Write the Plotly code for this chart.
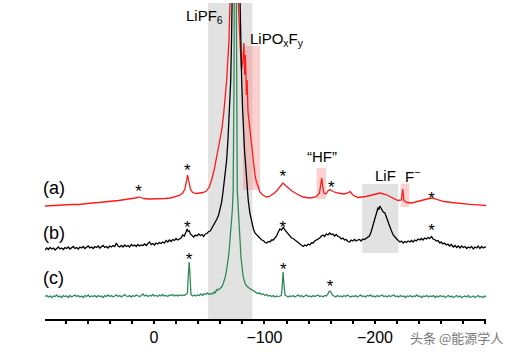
import plotly.graph_objects as go

# ---------------- data (chemical shift in ppm, intensity in arbitrary units) ----------------
red_points = [
    (98.6, -1), (92, -0.5), (86, -0.5), (80, 0), (74, 0.5), (68, 0.5), (62, 1.5), (56, 2), (50, 2.5),
    (44, 3), (38, 3.5), (32, 4.5), (26, 5.5), (21, 6), (17, 7), (15, 7.5), (13.5, 8), (12, 7.5), (9, 6.5),
    (5, 6), (0, 6), (-5, 6), (-10, 6.5), (-15, 7), (-19, 8), (-23, 9.5), (-26, 12), (-28, 16), (-29.5, 24),
    (-30.5, 30), (-31.5, 24), (-33, 16), (-35, 12.5), (-38, 11.5), (-41.5, 12), (-44.5, 12.5), (-47.5, 14),
    (-50, 18), (-52.2, 25), (-54.5, 35), (-56.7, 48), (-59, 61), (-61.3, 75), (-63, 90), (-64.3, 105),
    (-65.8, 125), (-67.9, 165), (-69.4, 205), (-70.5, 270), (-72, 420), (-73, 520), (-74, 460), (-75.2, 320),
    (-76.2, 205), (-77.8, 165), (-79.2, 135), (-80.5, 145), (-81.4, 162), (-82.1, 130), (-82.8, 150),
    (-83.7, 110), (-84.3, 125), (-85.1, 93), (-86.9, 75), (-88.5, 56), (-89.9, 42), (-91.2, 32), (-92.3, 25),
    (-94, 18), (-95.9, 13), (-98.5, 10), (-101.9, 8), (-104.5, 8.5), (-106.8, 10), (-109, 12), (-111, 14),
    (-113, 17), (-114.5, 19), (-116.7, 22), (-118.6, 20), (-121.3, 17), (-124.9, 14), (-129.4, 11),
    (-134.8, 8), (-141.2, 7), (-146.6, 8), (-149.8, 12), (-151.1, 21), (-151.8, 27), (-152.6, 19),
    (-153.8, 12), (-155.7, 11), (-157.5, 14), (-159.3, 15.5), (-162, 13.5), (-166.5, 12), (-171.9, 11),
    (-175.5, 12), (-177.4, 13.5), (-180, 10), (-184.6, 7.5), (-191.9, 8.5), (-198.2, 10), (-204.5, 12),
    (-209.9, 10.5), (-215.4, 7.5), (-220.8, 4.5), (-224, 5), (-225.1, 16), (-226.2, 4.5), (-228.9, 2.5),
    (-233.4, 2), (-240.7, 4.5), (-247.1, 6), (-251.6, 7), (-256.1, 5.5), (-262.4, 3.5), (-269.7, 2.5),
    (-276.9, 1.5), (-286, 0.7), (-293.2, 0.2), (-300.5, -0.5),
]

black_points = [
    (98.6, -1), (97, 1), (95.5, -0.5), (94, 1.5), (92.5, 0), (91, 1), (89.5, -1), (88, 0.5), (86.5, 2),
    (85, 0), (83.5, 1), (82, -0.5), (80.5, 1.5), (79, 0.5), (77.5, 2), (76, 0), (74.5, 1), (73, 2.5),
    (71.5, 0.5), (70, 1.5), (68.5, 0), (67, 2), (65.5, 1), (64, 2.5), (62.5, 0.5), (61, 1.5), (59.5, 3),
    (58, 1), (56.5, 2), (55, 0.5), (53.5, 2.5), (52, 1.5), (50.5, 3), (49, 1), (47.5, 2), (46, 3.5),
    (44.5, 1.5), (43, 2.5), (41.5, 1), (40, 3), (38.5, 2), (37, 3.5), (35.5, 2.5), (34, 6), (32.5, 3),
    (31, 2), (29.5, 3.5), (28, 2), (26.5, 4), (25, 2.5), (23.5, 3.5), (22, 2), (20.5, 4.5), (19, 3),
    (17.5, 4), (16, 2.5), (14.5, 4.5), (13, 3), (11.5, 4), (10, 3.5), (8.5, 5), (7, 3.5), (5.5, 5.5),
    (4, 7), (2.5, 4.5), (1, 5.5), (-0.5, 4), (-2, 6), (-3.5, 5), (-5, 6.5), (-6.5, 5.5), (-8, 7), (-9.5, 6),
    (-11, 8.5), (-12.5, 7), (-14, 9), (-15.5, 7.5), (-17, 9.5), (-18.5, 8.5), (-20, 10.5), (-21.5, 9),
    (-23, 10), (-24.5, 11), (-26, 14), (-27.5, 13), (-29, 17), (-30, 20), (-31, 17.5), (-32, 18), (-33, 15),
    (-34.5, 13), (-36, 12), (-37.5, 14), (-39, 13), (-40.5, 15), (-42, 13.5), (-43.5, 14.5), (-45, 12.5),
    (-46.5, 15), (-48, 15.5), (-49.5, 17.5), (-51, 18), (-52.5, 21), (-54, 24), (-55.5, 26), (-57, 30),
    (-58.5, 34), (-60, 40), (-61.3, 47), (-62.5, 57), (-63.5, 66), (-64.8, 78), (-65.8, 89), (-67, 110),
    (-67.9, 129), (-68.8, 150), (-69.5, 169), (-70.2, 209), (-71, 249), (-72, 330), (-73, 430), (-74, 490),
    (-75, 440), (-76, 350), (-77, 290), (-77.8, 249), (-78.6, 205), (-79.4, 169), (-80.2, 140), (-80.8, 119),
    (-82, 98), (-83.3, 79), (-84.3, 63), (-85.3, 49), (-86.8, 36), (-88.4, 26), (-90, 20), (-91.4, 16),
    (-93, 14), (-94.5, 12), (-96, 11), (-97.5, 9), (-99, 8.5), (-100.5, 6.5), (-102, 6), (-103.5, 7.5),
    (-105, 7), (-106.5, 9), (-108, 9), (-109.5, 11.5), (-111, 13), (-112.5, 17), (-114, 20), (-115.5, 19),
    (-117, 22), (-118.5, 19), (-120, 17), (-121.5, 14), (-123, 13), (-124.5, 11), (-126, 10.5), (-127.5, 9),
    (-129, 7.5), (-130.5, 6), (-132, 5), (-133.5, 3), (-135, 2.5), (-136.5, 4), (-138, 3), (-139.5, 5),
    (-141, 4), (-142.5, 6), (-144, 6), (-145.5, 8), (-147, 9), (-148.5, 10.5), (-150, 11), (-151.5, 13),
    (-153, 14), (-154.5, 12.5), (-156, 15), (-157.5, 14), (-159, 16), (-160.5, 14.5), (-162, 15),
    (-163.5, 13), (-165, 14.5), (-166.5, 12.5), (-168, 12), (-169.5, 10), (-171, 11), (-172.5, 9),
    (-174, 9.5), (-175.5, 7.5), (-177, 7), (-178.5, 9), (-180, 8), (-181.5, 9.5), (-183, 8), (-184.5, 9),
    (-186, 9.5), (-187.5, 8), (-189, 10), (-190.5, 9.5), (-192, 11), (-193.5, 12), (-195, 13), (-196.5, 17),
    (-197.5, 21), (-198.7, 27), (-200, 32), (-201.3, 37), (-202.7, 41), (-203.6, 40), (-204.5, 43),
    (-205.4, 41), (-206.3, 39), (-207.5, 37), (-209, 36), (-210.5, 32), (-212, 27), (-213.6, 22), (-215, 18),
    (-216.5, 14), (-218.1, 12), (-219.5, 10), (-221, 8.5), (-222.6, 7), (-224, 8), (-225.5, 6), (-227, 7.5),
    (-228.5, 6.5), (-230, 8), (-231.7, 7), (-233, 8.5), (-234.5, 7), (-236, 9), (-237.5, 8), (-239, 10),
    (-240.7, 9), (-242, 10.5), (-243.5, 9), (-245, 11), (-246.5, 10), (-248, 11.5), (-249.5, 10.5),
    (-251.3, 12.5), (-252.5, 10), (-254, 9.5), (-255.5, 8), (-257, 8.5), (-258.8, 6), (-260, 7), (-261.5, 5),
    (-263, 6), (-264.5, 4), (-266, 5), (-267.5, 3), (-269, 4.5), (-270.9, 2), (-272.5, 3.5), (-274, 1.5),
    (-275.5, 3), (-277, 1), (-278.5, 3), (-280, 1.5), (-281.5, 2.5), (-283, 0.5), (-284.5, 2), (-286, 1),
    (-287.5, 2.5), (-289, 0), (-290.5, 2), (-292, 1), (-293.5, 3), (-295, 0.5), (-296.5, 2.5), (-298, 1),
    (-299.5, 2), (-300.5, 1.5),
]

green_points = [
    (98.6, 0.5), (97, 1.5), (95.5, 0), (94, 1), (92.5, -0.5), (91, 1), (89.5, 0.5), (88, 2), (86.5, 0),
    (85, 1), (83.5, -0.5), (82, 1.5), (80.5, 0.5), (79, 1), (77.5, -0.5), (76, 1.5), (74.5, 0), (73, 1),
    (71.5, 2), (70, 0.5), (68.5, 1.5), (67, 0), (65.5, 1), (64, -0.5), (62.5, 1.5), (61, 0.5), (59.5, 2),
    (58, 0), (56.5, 1), (55, 0.5), (53.5, 1.5), (52, 0), (50.5, 1.5), (49, 0.5), (47.5, 1), (46, -0.5),
    (44.5, 1.5), (43, 0.5), (41.5, 2), (40, 0.5), (38.5, 1.5), (37, 0), (35.5, 1), (34, 2), (32.5, 0.5),
    (31, 1.5), (29.5, 0), (28, 1), (26.5, 2.5), (25, 1), (23.5, 0.5), (22, 1.5), (20.5, 0), (19, 1.5),
    (17.5, 0.5), (16, 2), (14.5, 1), (13, 0.5), (11.5, 1.5), (10, 3), (8.5, 1), (7, 2), (5.5, 0.5),
    (4, 1.5), (2.5, 1), (1, 2.5), (-0.5, 1), (-2, 1.5), (-3.5, 0.5), (-5, 2), (-6.5, 1), (-8, 2.5),
    (-9.5, 1), (-11, 1.5), (-12.5, 0.5), (-14, 2), (-15.5, 1.5), (-17, 2.5), (-18.5, 1), (-20, 2),
    (-21.5, 1), (-23, 2), (-24.5, 1.5), (-26, 2), (-27.5, 1.5), (-29, 2.5), (-30.3, 4), (-30.9, 18),
    (-31.4, 33), (-31.9, 35), (-32.4, 26), (-32.9, 8), (-33.5, 2.5), (-35, 1), (-36.5, 2), (-38, 1),
    (-39.5, 2), (-41, 1.5), (-42.5, 3), (-44, 1.5), (-45.5, 3.5), (-47, 2.5), (-48.5, 4), (-50, 2.5),
    (-51.5, 3.5), (-53, 3), (-54.5, 5), (-55.5, 4), (-56.7, 7.5), (-58, 7), (-59.5, 8.5), (-61.3, 10),
    (-62.5, 13), (-63.5, 16), (-64.3, 19), (-65.3, 24), (-66.3, 30), (-67.2, 38), (-68.1, 47), (-69.2, 60),
    (-70.3, 74), (-71, 88), (-71.7, 107), (-72.1, 150), (-72.4, 210), (-72.7, 300), (-73.2, 600),
    (-73.6, 900), (-74, 600), (-74.4, 330), (-74.8, 200), (-75.4, 107), (-76.3, 88), (-77.2, 74), (-78, 55),
    (-78.7, 40), (-79.7, 28), (-80.8, 20), (-82.3, 14), (-83.9, 11), (-86, 9), (-88.4, 7.5), (-90.5, 6),
    (-92.5, 5), (-94, 3.5), (-95.9, 4), (-97.5, 2.5), (-99, 3), (-100.5, 1.5), (-102, 2.5), (-103.5, 1),
    (-105, 1.5), (-106.5, 0.5), (-108, 1.5), (-109.5, 0), (-111, 1), (-112.5, 0.5), (-114, 1), (-115.3, 1.5),
    (-115.9, 8), (-116.4, 20), (-116.9, 25), (-117.4, 16), (-117.9, 5), (-118.6, 2), (-120, 1), (-121.5, 0),
    (-123, 1), (-124.5, 0.5), (-126, 1.5), (-127.5, 0), (-129, 1), (-130.5, 2), (-132, 0.5), (-133.5, 1.5),
    (-135, 0), (-136.5, 1), (-138, 2), (-139.5, 0.5), (-141, 1), (-142.5, 0), (-144, 1.5), (-145.5, 0.5),
    (-147, 1), (-148.5, 2), (-150, 0.5), (-151.5, 1), (-153, 0), (-154.5, 1.5), (-156, 1), (-157.5, 3),
    (-158.5, 5.5), (-159.5, 6), (-160.5, 4), (-161.5, 2), (-163, 1), (-164.5, 0), (-166, 1.5), (-167.5, 0.5),
    (-169, 1), (-170.5, 0), (-172, 1.5), (-173.5, 0.5), (-175, 2), (-176.5, 1), (-178, 0), (-179.5, 1),
    (-181, 0.5), (-182.5, 1.5), (-184, 0), (-185.5, 1), (-187, 2), (-188.5, 0.5), (-190, 1), (-191.5, 0),
    (-193, 1.5), (-194.5, 1), (-196, 2), (-197.5, 0.5), (-199, 1), (-200.5, 0), (-202, 1.5), (-203.5, 0.5),
    (-205, 1), (-206.5, 2), (-208, 0.5), (-209.5, 1), (-211, 0), (-212.5, 1.5), (-214, 0.5), (-215.5, 1),
    (-217, 2), (-218.5, 0.5), (-220, 1), (-221.5, 0), (-223, 1.5), (-224.5, 0.5), (-226, 1), (-227.5, -0.5),
    (-229, 1), (-230.5, 0.5), (-232, 1.5), (-233.5, 0), (-235, 1), (-236.5, 0.5), (-238, 2), (-239.5, 0.5),
    (-241, 1), (-242.5, -0.5), (-244, 1), (-245.5, 0.5), (-247, 1.5), (-248.5, 0), (-250, 1), (-251.5, 0.5),
    (-253, 1.5), (-254.5, -0.5), (-256, 1), (-257.5, 0), (-259, 1.5), (-260.5, 0.5), (-262, 1), (-263.5, -0.5),
    (-265, 0.5), (-266.5, 1.5), (-268, 0), (-269.5, 1), (-271, -0.5), (-272.5, 0.5), (-274, 1.5), (-275.5, 0),
    (-277, 1), (-278.5, -0.5), (-280, 0.5), (-281.5, 1), (-283, 0), (-284.5, 1.5), (-286, -0.5), (-287.5, 0.5),
    (-289, 1), (-290.5, -0.5), (-292, 0.5), (-293.5, 1.5), (-295, 0), (-296.5, 0.5), (-298, -0.5),
    (-299.5, 1), (-300.5, 0),
]

trace_labels = ["(a)", "(b)", "(c)"]

# spinning side bands (*) : (ppm, intensity above own baseline)
stars_a = [(14.0, 16), (-30.1, 37), (-116.7, 31), (-160.6, 20), (-251.3, 9)]
stars_b = [(-30.1, 24), (-116.7, 24), (-251.3, 21)]
stars_c = [(-31.7, 40), (-117.0, 30), (-159.3, 13)]

# assignment regions (ppm)
lipf6_band = (-49, -89)
lipoxfy_band = (-80.5, -96)
hf_band = (-147.2, -155.7)
lif_band = (-188.5, -221.1)
fminus_band = (-223.3, -231.0)

tick_values = [0, -100, -200]
tick_labels = ["0", "\u2212100", "\u2212200"]
minor_tick_step = 20

# ---------------- styling ----------------
offsets = [114, 70, 22]
colors = ["#ff1a1a", "#000000", "#2e8b57"]
FONT = "Liberation Sans, Arial, sans-serif"

fig = go.Figure()

for pts, off, col in zip([red_points, black_points, green_points], offsets, colors):
    xs = [p[0] for p in pts]
    ys = [p[1] + off for p in pts]
    fig.add_trace(go.Scatter(x=xs, y=ys, mode="lines", line=dict(color=col, width=1.3),
                             showlegend=False, hoverinfo="skip"))

# stars
star_shift = -4
for stars, off in zip([stars_a, stars_b, stars_c], offsets):
    fig.add_trace(go.Scatter(x=[s[0] for s in stars], y=[s[1] + off + star_shift for s in stars],
                             mode="text", text=["*"] * len(stars), textposition="middle center",
                             textfont=dict(family=FONT, size=17, color="black"),
                             showlegend=False, hoverinfo="skip", cliponaxis=False))

gray = "#e2e2e2"
pink = "rgba(250,120,120,0.35)"
shapes = [
    dict(type="rect", xref="x", yref="paper", x0=lipf6_band[0], x1=lipf6_band[1], y0=0, y1=1,
         fillcolor=gray, line=dict(width=0), layer="below"),
    dict(type="rect", xref="x", yref="y", x0=lipoxfy_band[0], x1=lipoxfy_band[1], y0=129, y1=273,
         fillcolor=pink, line=dict(width=0), layer="below"),
    dict(type="rect", xref="x", yref="y", x0=hf_band[0], x1=hf_band[1], y0=120, y1=151,
         fillcolor=pink, line=dict(width=0), layer="below"),
    dict(type="rect", xref="x", yref="y", x0=lif_band[0], x1=lif_band[1], y0=66, y1=135,
         fillcolor=gray, line=dict(width=0), layer="below"),
    dict(type="rect", xref="x", yref="y", x0=fminus_band[0], x1=fminus_band[1], y0=112, y1=135.5,
         fillcolor=pink, line=dict(width=0), layer="below"),
]

ann = []
def add_text(text, x, y, size, xanchor="center", xref="x", yref="y", color="black", family=FONT):
    ann.append(dict(text=text, x=x, y=y, xref=xref, yref=yref, xanchor=xanchor, yanchor="middle",
                    showarrow=False, font=dict(family=family, size=size, color=color)))

add_text("LiPF<sub>6</sub>", -27.1, 303, 15, xanchor="left")
add_text("LiPO<sub>x</sub>F<sub>y</sub>", -85.1, 280, 15, xanchor="left")
add_text("\u201cHF\u201d", -152.5, 163, 15)
add_text("LiF", -198.2, 144, 15, xanchor="left")
add_text("F<sup>\u2212</sup>", -225.3, 144, 15, xanchor="left")
for lab, yy in zip(trace_labels, [131, 86, 41]):
    add_text(lab, 90.5, yy, 18)
add_text("头条 @能源学人", 0.932, -0.057, 13, xref="paper", yref="paper", color="#777777",
         family="Noto Sans CJK SC")

fig.update_layout(
    width=514, height=354,
    margin=dict(l=45, r=28, t=3, b=35),
    paper_bgcolor="white", plot_bgcolor="white",
    shapes=shapes, annotations=ann,
    xaxis=dict(range=[98.6, -300.5], tickvals=tick_values, ticktext=tick_labels,
               showline=True, linecolor="black", linewidth=2, ticks="outside", ticklen=3,
               tickwidth=2, tickcolor="black", showgrid=False, zeroline=False,
               minor=dict(ticks="outside", ticklen=3, tickwidth=2, tickcolor="black",
                          tick0=0, dtick=minor_tick_step, showgrid=False),
               tickfont=dict(family=FONT, size=16, color="black")),
    yaxis=dict(range=[0, 316], visible=False, showgrid=False, zeroline=False),
)

fig.write_html("out.html")
